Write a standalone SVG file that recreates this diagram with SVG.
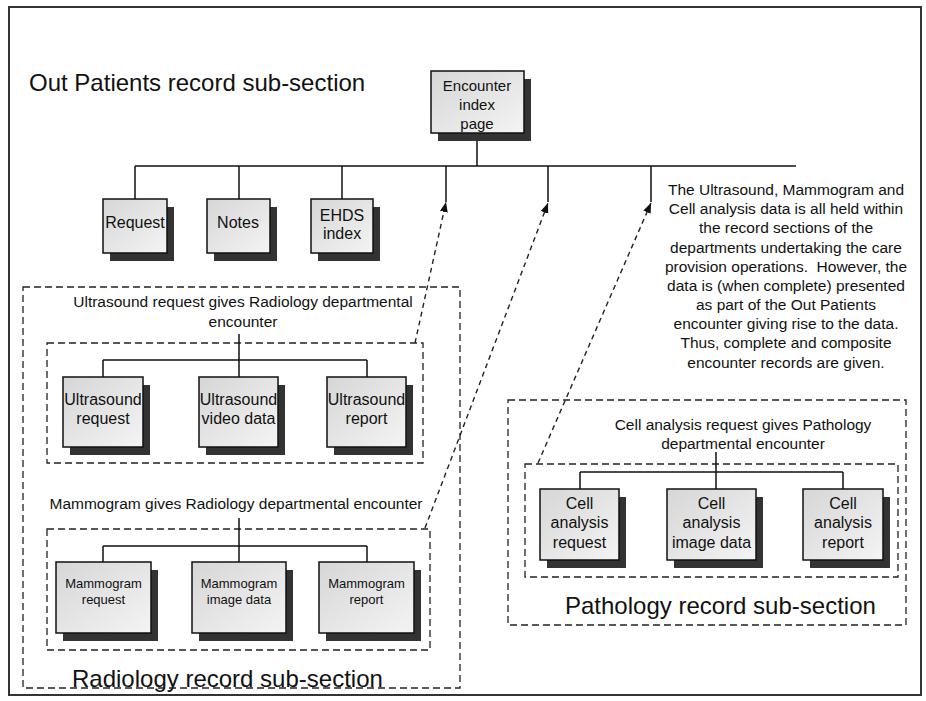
<svg xmlns="http://www.w3.org/2000/svg" width="926" height="701" viewBox="0 0 926 701">
<style>
text{font-family:"Liberation Sans",Arial,sans-serif;fill:#111}
.t{font-size:15.5px;text-anchor:middle}
.n{font-size:16px;text-anchor:middle}
.s{font-size:13px;text-anchor:middle}
.h{font-size:24px}
.box{fill:url(#g);stroke:#111;stroke-width:1.5}
.sh{fill:#333}
.ln{fill:none;stroke:#111;stroke-width:1.5}
.dl{fill:none;stroke:#222;stroke-width:1.4;stroke-dasharray:5 4}
.db{fill:none;stroke:#222;stroke-width:1.3;stroke-dasharray:7 4}
</style>
<defs>
<linearGradient id="g" x1="0" y1="0" x2="1" y2="1">
<stop offset="0" stop-color="#d6d6d6"/>
<stop offset="1" stop-color="#f4f4f4"/>
</linearGradient>
<marker id="ah" viewBox="0 0 10 10" refX="10" refY="5" markerWidth="10" markerHeight="10" markerUnits="userSpaceOnUse" orient="auto">
<path d="M0,1 L10,5 L0,9 Z" fill="#111"/>
</marker>
</defs>
<rect width="926" height="701" fill="#fff"/>
<rect x="9" y="7" width="912" height="688" fill="none" stroke="#333" stroke-width="2"/>

<text class="h" x="29" y="91">Out Patients record sub-section</text>
<text class="h" x="72" y="687">Radiology record sub-section</text>
<text class="h" x="565" y="614">Pathology record sub-section</text>

<g id="sections">
<rect class="db" x="23" y="287" width="437" height="401"/>
<rect class="db" x="47" y="343" width="376" height="120"/>
<rect class="db" x="47" y="529" width="383" height="121"/>
<rect class="db" x="508" y="400" width="398" height="225"/>
<rect class="db" x="525" y="464" width="373" height="113"/>
</g>

<text class="t" x="243" y="307">Ultrasound request gives Radiology departmental</text>
<text class="t" x="243" y="327">encounter</text>
<text class="t" x="236" y="509">Mammogram gives Radiology departmental encounter</text>
<text class="t" x="743" y="430">Cell analysis request gives Pathology</text>
<text class="t" x="743" y="449">departmental encounter</text>

<text class="t" x="786" y="195">The Ultrasound, Mammogram and</text>
<text class="t" x="786" y="214">Cell analysis data is all held within</text>
<text class="t" x="786" y="233">the record sections of the</text>
<text class="t" x="786" y="253">departments undertaking the care</text>
<text class="t" x="786" y="272">provision operations.&#160; However, the</text>
<text class="t" x="786" y="291">data is (when complete) presented</text>
<text class="t" x="786" y="310">as part of the Out Patients</text>
<text class="t" x="786" y="329">encounter giving rise to the data.</text>
<text class="t" x="786" y="348">Thus, complete and composite</text>
<text class="t" x="786" y="368">encounter records are given.</text>

<g id="connectors">
<path class="ln" d="M477,133V166M135,166H796M135,166V199M239,166V199M342,166V199M446,166V202M548,166V202M651,166V202"/>
<path class="ln" d="M239,334V360M103,360H367M103,360V377M239,360V377M367,360V377"/>
<path class="ln" d="M239,518V546M103,546H367M103,546V562M239,546V562M367,546V562"/>
<path class="ln" d="M716,452V472M580,472H843M580,472V489M716,472V489M843,472V489"/>
<path class="dl" d="M415,343L446,202" marker-end="url(#ah)"/>
<path class="dl" d="M425,528L548,203" marker-end="url(#ah)"/>
<path class="dl" d="M538,463L651,203" marker-end="url(#ah)"/>
</g>

<g id="encounter">
<rect class="sh" x="438" y="79" width="93" height="62"/>
<rect class="box" x="431" y="71" width="93" height="62"/>
<text class="n" x="477" y="91" style="font-size:15px">Encounter</text>
<text class="n" x="477" y="110" style="font-size:15px">index</text>
<text class="n" x="477" y="129" style="font-size:15px">page</text>
</g>
<g id="request">
<rect class="sh" x="110" y="207" width="64" height="54"/>
<rect class="box" x="103" y="199" width="64" height="54"/>
<text class="n" x="135" y="228">Request</text>
</g>
<g id="notes">
<rect class="sh" x="214" y="207" width="63" height="54"/>
<rect class="box" x="207" y="199" width="63" height="54"/>
<text class="n" x="238" y="228">Notes</text>
</g>
<g id="ehds">
<rect class="sh" x="318" y="207" width="62" height="54"/>
<rect class="box" x="311" y="199" width="62" height="54"/>
<text class="n" x="342" y="221">EHDS</text>
<text class="n" x="342" y="239">index</text>
</g>

<g id="us-request">
<rect class="sh" x="70" y="385" width="80" height="70"/>
<rect class="box" x="63" y="377" width="80" height="70"/>
<text class="n" x="103" y="405">Ultrasound</text>
<text class="n" x="103" y="424">request</text>
</g>
<g id="us-video">
<rect class="sh" x="206" y="385" width="79" height="70"/>
<rect class="box" x="199" y="377" width="79" height="70"/>
<text class="n" x="238.5" y="405">Ultrasound</text>
<text class="n" x="238.5" y="424">video data</text>
</g>
<g id="us-report">
<rect class="sh" x="334" y="385" width="79" height="70"/>
<rect class="box" x="327" y="377" width="79" height="70"/>
<text class="n" x="366.5" y="405">Ultrasound</text>
<text class="n" x="366.5" y="424">report</text>
</g>

<g id="mam-request">
<rect class="sh" x="63" y="570" width="95" height="71"/>
<rect class="box" x="56" y="562" width="95" height="71"/>
<text class="s" x="103.5" y="588">Mammogram</text>
<text class="s" x="103.5" y="604">request</text>
</g>
<g id="mam-image">
<rect class="sh" x="199" y="570" width="94" height="71"/>
<rect class="box" x="192" y="562" width="94" height="71"/>
<text class="s" x="239" y="588">Mammogram</text>
<text class="s" x="239" y="604">image data</text>
</g>
<g id="mam-report">
<rect class="sh" x="326" y="570" width="95" height="71"/>
<rect class="box" x="319" y="562" width="95" height="71"/>
<text class="s" x="366.5" y="588">Mammogram</text>
<text class="s" x="366.5" y="604">report</text>
</g>

<g id="cell-request">
<rect class="sh" x="547" y="497" width="79" height="71"/>
<rect class="box" x="540" y="489" width="79" height="71"/>
<text class="n" x="579.5" y="509">Cell</text>
<text class="n" x="579.5" y="528">analysis</text>
<text class="n" x="579.5" y="548">request</text>
</g>
<g id="cell-image">
<rect class="sh" x="674" y="497" width="89" height="71"/>
<rect class="box" x="667" y="489" width="89" height="71"/>
<text class="n" x="711.5" y="509">Cell</text>
<text class="n" x="711.5" y="528">analysis</text>
<text class="n" x="711.5" y="548">image data</text>
</g>
<g id="cell-report">
<rect class="sh" x="810" y="497" width="80" height="71"/>
<rect class="box" x="803" y="489" width="80" height="71"/>
<text class="n" x="843" y="509">Cell</text>
<text class="n" x="843" y="528">analysis</text>
<text class="n" x="843" y="548">report</text>
</g>
</svg>
